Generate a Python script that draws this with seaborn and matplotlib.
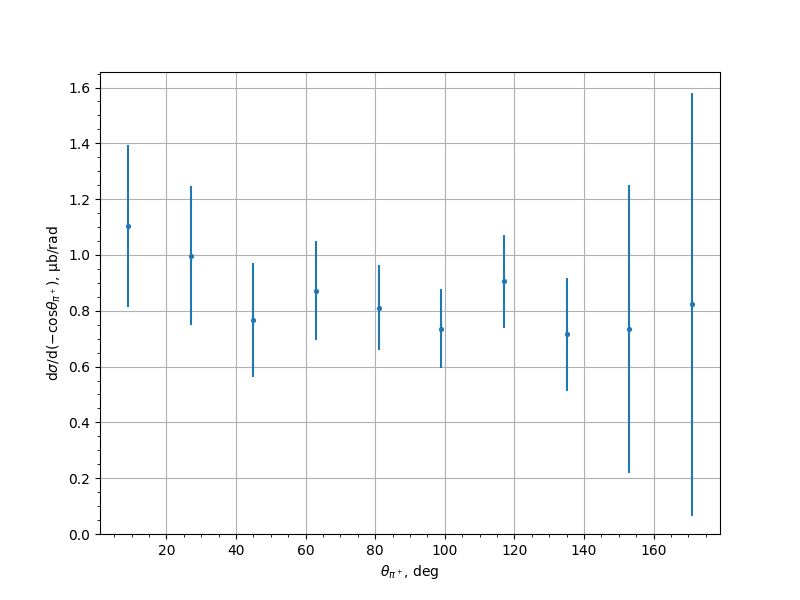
import matplotlib
matplotlib.use('Agg')
import matplotlib.pyplot as plt
import seaborn as sns
import pandas as pd

# angle bin centres (deg) and cross section with errors
theta = [9, 27, 45, 63, 81, 99, 117, 135, 153, 171]
xsec = [1.105, 0.997, 0.768, 0.872, 0.811, 0.736, 0.905, 0.715, 0.735, 0.823]
xsec_err = [0.290, 0.249, 0.204, 0.177, 0.152, 0.141, 0.168, 0.202, 0.515, 0.757]

df = pd.DataFrame({'theta': theta, 'xsec': xsec, 'err': xsec_err})

fig, ax = plt.subplots(figsize=(8, 6), dpi=100)

color = sns.color_palette()[0]
ax.errorbar(df['theta'], df['xsec'], yerr=df['err'], fmt='none',
            ecolor=color, elinewidth=1.5)
sns.scatterplot(data=df, x='theta', y='xsec', ax=ax, color=color,
                s=14, linewidth=0, zorder=3)

ax.set_ylim(bottom=0)
ax.minorticks_on()
ax.grid(which='major', color='#b0b0b0', linewidth=0.8)
ax.set_axisbelow(True)
ax.set_xlabel(r'$\theta_{\pi^+}$, deg')
ax.set_ylabel(r'd$\sigma$/d($-$cos$\theta_{\pi^+}$), μb/rad')

plt.savefig('out.png')
plt.close()
